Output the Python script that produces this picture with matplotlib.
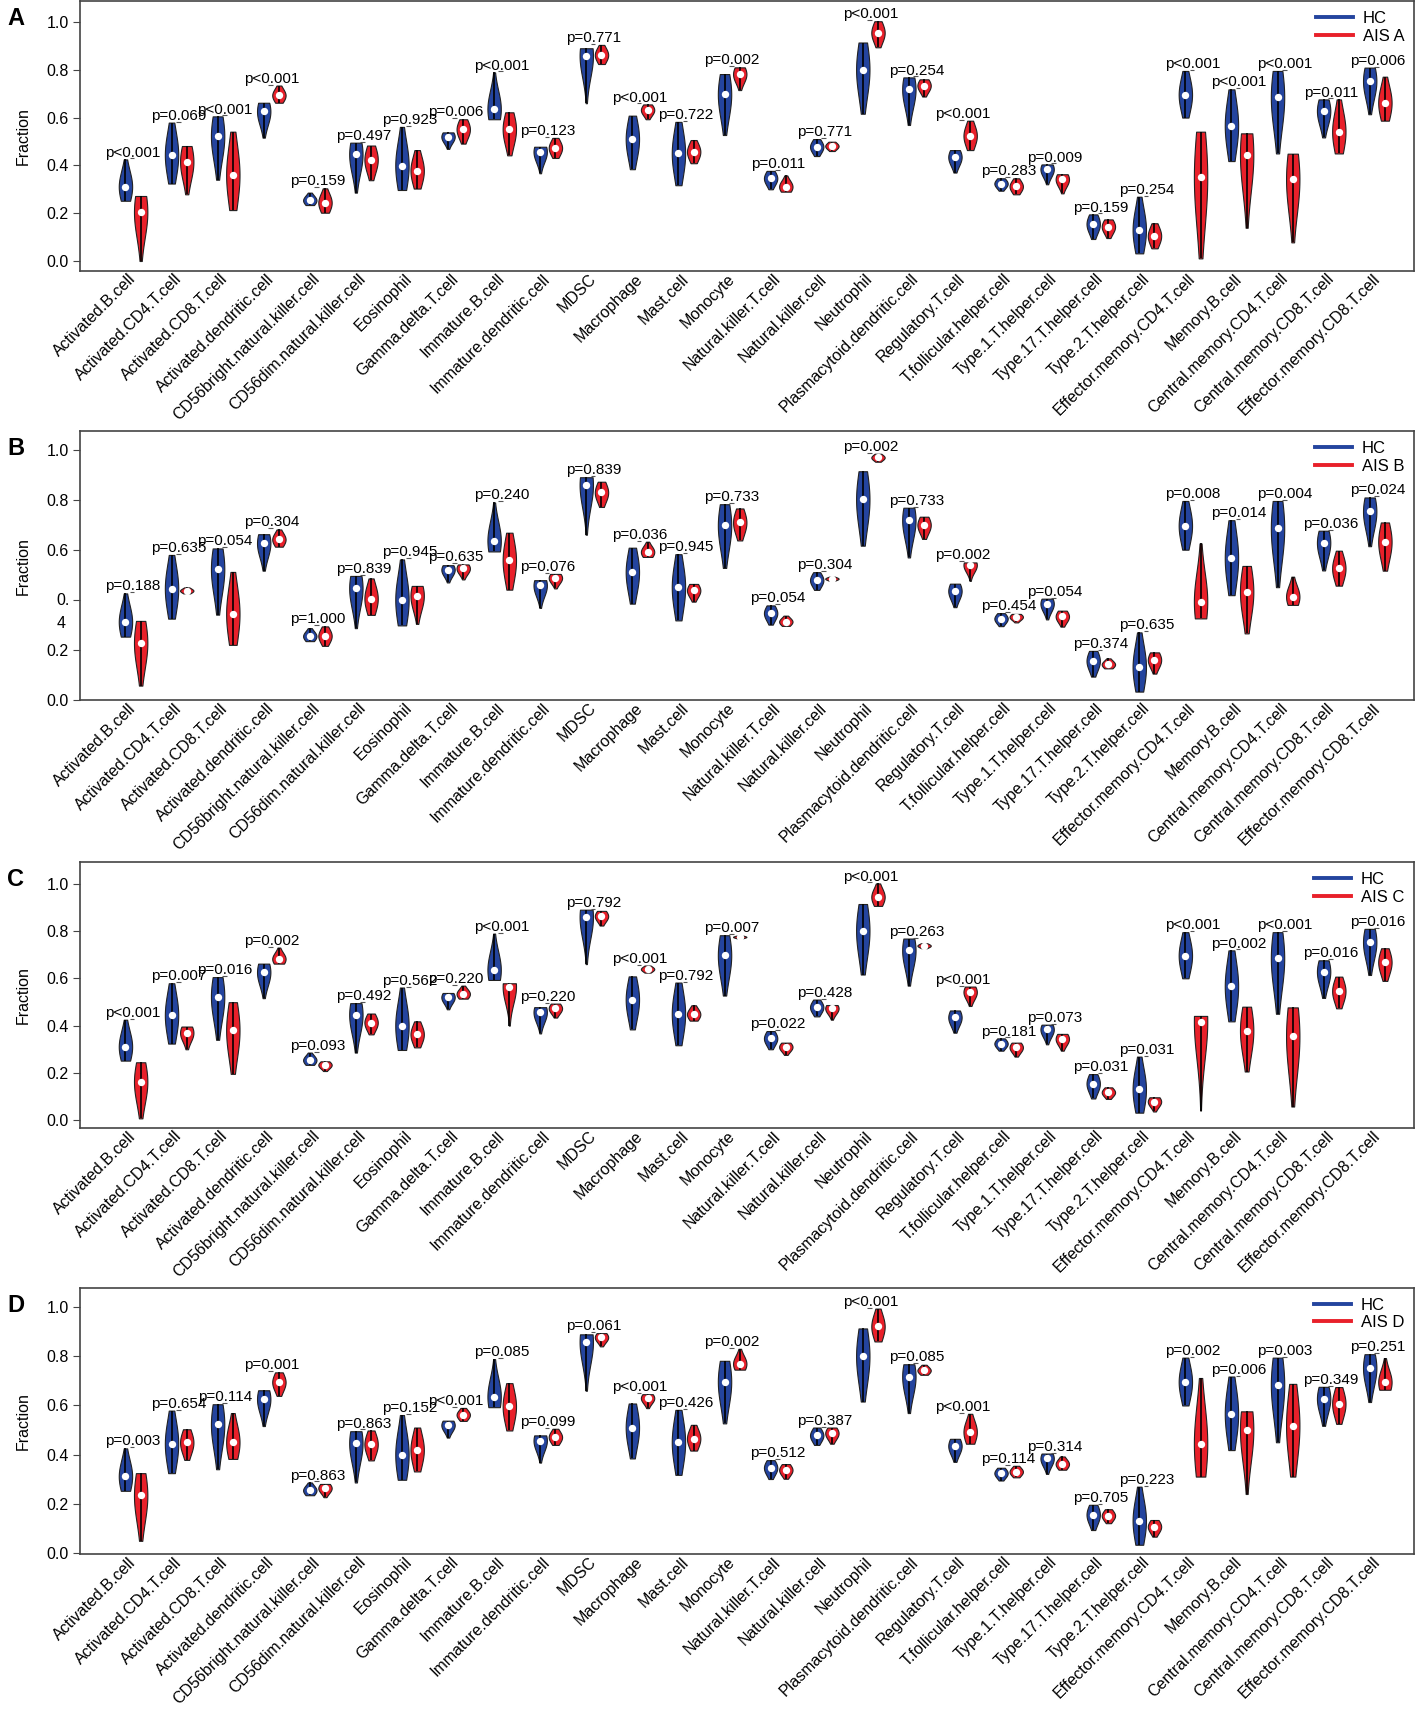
import numpy as np
import matplotlib.pyplot as plt
from matplotlib.lines import Line2D

plt.rcParams['font.family'] = ['Liberation Sans', 'DejaVu Sans']

cells = ["Activated.B.cell", "Activated.CD4.T.cell", "Activated.CD8.T.cell",
         "Activated.dendritic.cell", "CD56bright.natural.killer.cell",
         "CD56dim.natural.killer.cell", "Eosinophil", "Gamma.delta.T.cell",
         "Immature.B.cell", "Immature.dendritic.cell", "MDSC", "Macrophage",
         "Mast.cell", "Monocyte", "Natural.killer.T.cell", "Natural.killer.cell",
         "Neutrophil", "Plasmacytoid.dendritic.cell", "Regulatory.T.cell",
         "T.follicular.helper.cell", "Type.1.T.helper.cell", "Type.17.T.helper.cell",
         "Type.2.T.helper.cell", "Effector.memory.CD4.T.cell", "Memory.B.cell",
         "Central.memory.CD4.T.cell", "Central.memory.CD8.T.cell",
         "Effector.memory.CD8.T.cell"]

# HC group (same in every panel): min, median, max
hc_lo = [0.252, 0.324, 0.340, 0.516, 0.234, 0.286, 0.297, 0.469, 0.593, 0.367, 0.660, 0.384, 0.317, 0.527,
         0.300, 0.439, 0.616, 0.569, 0.370, 0.294, 0.321, 0.092, 0.032, 0.600, 0.418, 0.450, 0.517, 0.614]
hc_med = [0.311, 0.444, 0.523, 0.626, 0.254, 0.446, 0.399, 0.520, 0.636, 0.457, 0.859, 0.510, 0.450, 0.697,
          0.346, 0.478, 0.801, 0.718, 0.435, 0.324, 0.384, 0.155, 0.130, 0.696, 0.566, 0.685, 0.628, 0.753]
hc_hi = [0.425, 0.579, 0.605, 0.662, 0.286, 0.495, 0.561, 0.538, 0.789, 0.478, 0.890, 0.608, 0.582, 0.782,
         0.377, 0.510, 0.914, 0.768, 0.464, 0.346, 0.404, 0.195, 0.269, 0.795, 0.718, 0.795, 0.676, 0.809]

# AIS A
a_lo = [0.000, 0.279, 0.213, 0.662, 0.202, 0.338, 0.303, 0.491, 0.442, 0.431, 0.824, 0.593, 0.409, 0.715,
        0.290, 0.460, 0.894, 0.688, 0.464, 0.279, 0.283, 0.096, 0.053, 0.011, 0.139, 0.078, 0.450, 0.587]
a_med = [0.205, 0.416, 0.360, 0.693, 0.244, 0.424, 0.378, 0.551, 0.551, 0.473, 0.862, 0.632, 0.457, 0.782,
         0.311, 0.481, 0.955, 0.734, 0.524, 0.312, 0.342, 0.144, 0.105, 0.350, 0.444, 0.342, 0.541, 0.662]
a_hi = [0.272, 0.481, 0.541, 0.734, 0.304, 0.483, 0.464, 0.593, 0.622, 0.515, 0.904, 0.655, 0.506, 0.810,
        0.358, 0.499, 1.003, 0.760, 0.587, 0.346, 0.363, 0.174, 0.158, 0.541, 0.534, 0.449, 0.676, 0.771]
a_p = ["p<0.001", "p=0.069", "p<0.001", "p<0.001", "p=0.159", "p=0.497", "p=0.923", "p=0.006", "p<0.001",
       "p=0.123", "p=0.771", "p<0.001", "p=0.722", "p=0.002", "p=0.011", "p=0.771", "p<0.001", "p=0.254",
       "p<0.001", "p=0.283", "p=0.009", "p=0.159", "p=0.254", "p<0.001", "p<0.001", "p<0.001", "p=0.011",
       "p=0.006"]

# AIS B
b_lo = [0.056, 0.425, 0.219, 0.612, 0.215, 0.339, 0.303, 0.481, 0.440, 0.445, 0.771, 0.571, 0.392, 0.637,
        0.295, 0.476, 0.952, 0.643, 0.475, 0.309, 0.292, 0.125, 0.104, 0.325, 0.265, 0.379, 0.456, 0.516]
b_med = [0.227, 0.436, 0.343, 0.641, 0.255, 0.404, 0.416, 0.525, 0.557, 0.487, 0.829, 0.591, 0.437, 0.709,
         0.312, 0.484, 0.969, 0.699, 0.539, 0.331, 0.333, 0.141, 0.159, 0.392, 0.432, 0.412, 0.525, 0.632]
b_hi = [0.315, 0.449, 0.511, 0.681, 0.293, 0.485, 0.455, 0.541, 0.668, 0.503, 0.872, 0.632, 0.463, 0.765,
        0.336, 0.492, 0.984, 0.732, 0.549, 0.343, 0.356, 0.165, 0.189, 0.625, 0.535, 0.492, 0.596, 0.709]
b_p = ["p=0.188", "p=0.635", "p=0.054", "p=0.304", "p=1.000", "p=0.839", "p=0.945", "p=0.635", "p=0.240",
       "p=0.076", "p=0.839", "p=0.036", "p=0.945", "p=0.733", "p=0.054", "p=0.304", "p=0.002", "p=0.733",
       "p=0.002", "p=0.454", "p=0.054", "p=0.374", "p=0.635", "p=0.008", "p=0.014", "p=0.004", "p=0.036",
       "p=0.024"]

# AIS C
c_lo = [0.008, 0.300, 0.196, 0.662, 0.208, 0.363, 0.308, 0.514, 0.400, 0.434, 0.823, 0.624, 0.421, 0.768,
        0.276, 0.425, 0.906, 0.727, 0.483, 0.269, 0.294, 0.090, 0.037, 0.041, 0.206, 0.058, 0.473, 0.589]
c_med = [0.163, 0.370, 0.380, 0.682, 0.234, 0.413, 0.363, 0.534, 0.565, 0.473, 0.863, 0.639, 0.448, 0.775,
         0.310, 0.473, 0.944, 0.738, 0.542, 0.308, 0.344, 0.118, 0.079, 0.417, 0.379, 0.354, 0.546, 0.668]
c_hi = [0.245, 0.396, 0.499, 0.730, 0.249, 0.451, 0.418, 0.569, 0.579, 0.493, 0.885, 0.654, 0.486, 0.780,
        0.328, 0.487, 1.001, 0.748, 0.565, 0.328, 0.365, 0.139, 0.097, 0.441, 0.480, 0.477, 0.607, 0.727]
c_p = ["p<0.001", "p=0.007", "p=0.016", "p=0.002", "p=0.093", "p=0.492", "p=0.562", "p=0.220", "p<0.001",
       "p=0.220", "p=0.792", "p<0.001", "p=0.792", "p=0.007", "p=0.022", "p=0.428", "p<0.001", "p=0.263",
       "p<0.001", "p=0.181", "p=0.073", "p=0.031", "p=0.031", "p<0.001", "p=0.002", "p<0.001", "p=0.016",
       "p=0.016"]

# AIS D
d_lo = [0.048, 0.378, 0.382, 0.639, 0.226, 0.376, 0.331, 0.537, 0.498, 0.439, 0.841, 0.589, 0.416, 0.746,
        0.301, 0.444, 0.861, 0.725, 0.444, 0.307, 0.338, 0.120, 0.065, 0.310, 0.239, 0.310, 0.525, 0.664]
d_med = [0.233, 0.449, 0.450, 0.695, 0.263, 0.442, 0.419, 0.562, 0.596, 0.471, 0.878, 0.630, 0.465, 0.770,
         0.337, 0.487, 0.922, 0.743, 0.492, 0.330, 0.361, 0.151, 0.106, 0.444, 0.501, 0.518, 0.607, 0.695]
d_hi = [0.324, 0.503, 0.569, 0.735, 0.280, 0.498, 0.510, 0.590, 0.691, 0.505, 0.895, 0.646, 0.521, 0.831,
        0.361, 0.510, 0.995, 0.766, 0.566, 0.354, 0.392, 0.177, 0.133, 0.712, 0.576, 0.688, 0.675, 0.793]
d_p = ["p=0.003", "p=0.654", "p=0.114", "p=0.001", "p=0.863", "p=0.863", "p=0.152", "p<0.001", "p=0.085",
       "p=0.099", "p=0.061", "p<0.001", "p=0.426", "p=0.002", "p=0.512", "p=0.387", "p<0.001", "p=0.085",
       "p<0.001", "p=0.114", "p=0.314", "p=0.705", "p=0.223", "p=0.002", "p=0.006", "p=0.003", "p=0.349",
       "p=0.251"]

blue = "#24449E"
red = "#E8202A"
frame = "#444444"

# letter, legend label, AIS data, p, axes (bottom, top) in fig fraction, ylim
panels = [
    ("A", "AIS A", a_lo, a_med, a_hi, a_p, (0.8414, 0.9994), (-0.042, 1.0875)),
    ("B", "AIS B", b_lo, b_med, b_hi, b_p, (0.5902, 0.7478), (-0.003, 1.075)),
    ("C", "AIS C", c_lo, c_med, c_hi, c_p, (0.3398, 0.4956), (-0.034, 1.0915)),
    ("D", "AIS D", d_lo, d_med, d_hi, d_p, (0.0905, 0.2465), (-0.007, 1.080)),
]


def vstats(lo, med, hi):
    # simple bump around the median, cut off at min/max like vioplot
    coords = np.linspace(lo, hi, 60)
    s = 0.4 * (hi - lo)
    vals = np.exp(-0.5 * ((coords - med) / s) ** 2)
    return dict(coords=coords, vals=vals, mean=med, median=med, min=lo, max=hi)


fig = plt.figure(figsize=(14.17, 17.09), dpi=100)
x = np.arange(len(cells))
off = 0.165

for letter, lab, lo, med, hi, pv, (bot, top), ylim in panels:
    ax = fig.add_axes([0.0565, bot, 0.9415, top - bot])
    groups = [(hc_lo, hc_med, hc_hi, blue, -off), (lo, med, hi, red, off)]
    for glo, gmed, ghi, col, dx in groups:
        stats = [vstats(*v) for v in zip(glo, gmed, ghi)]
        parts = ax.violin(stats, positions=x + dx, widths=0.29,
                          showmeans=False, showextrema=False, showmedians=False)
        for body in parts['bodies']:
            body.set_facecolor(col)
            body.set_edgecolor('#222222')
            body.set_linewidth(0.8)
            body.set_alpha(1)
            body.set_zorder(2)
        ax.vlines(x + dx, glo, ghi, color='black', lw=1.2, zorder=3)
        ax.scatter(x + dx, gmed, s=28, color='white', zorder=4, linewidths=0)

    # p-value labels above each pair
    for i in range(len(cells)):
        ytop = max(hc_hi[i], hi[i])
        ax.hlines(ytop + 0.004, i - 0.07, i + 0.03, color='#555555', lw=0.8)
        ax.text(i, ytop + 0.012, pv[i], ha='center', va='baseline', fontsize=11)

    ax.set_xlim(-1.15, 27.8)
    ax.set_ylim(*ylim)
    ax.set_yticks([0, 0.2, 0.4, 0.6, 0.8, 1.0])
    ylabels = ['0.0', '0.2', '0.4', '0.6', '0.8', '1.0']
    if letter == "B":
        ylabels[2] = ''
        ax.text(-0.0075, 0.4 + 0.025, '0.\n4', transform=ax.get_yaxis_transform(),
                ha='right', va='top', fontsize=11.5, multialignment='left', linespacing=1.6)
    ax.set_yticklabels(ylabels, fontsize=11.5)
    ax.set_xticks(x)
    ax.set_xticklabels(cells, rotation=45, ha='right', va='center',
                       rotation_mode='anchor', fontsize=11.5)
    ax.tick_params(axis='x', length=0, pad=4)
    ax.tick_params(axis='y', length=5, color=frame, pad=3)
    for sp in ax.spines.values():
        sp.set_color(frame)
        sp.set_linewidth(1.2)
    ax.set_ylabel("Fraction", fontsize=11.5)
    ax.yaxis.set_label_coords(-0.037, 0.5)

    handles = [Line2D([], [], color=blue, lw=2.8, label="HC"),
               Line2D([], [], color=red, lw=2.8, label=lab)]
    ax.legend(handles=handles, loc='upper right', frameon=False, fontsize=12,
              handlelength=2.2, borderaxespad=0.2, labelspacing=0.15, handletextpad=0.6)

    fig.text(0.011, top - 0.0105, letter, fontsize=17, fontweight='bold',
             ha='center', va='center')

fig.savefig("out.png", dpi=100)
